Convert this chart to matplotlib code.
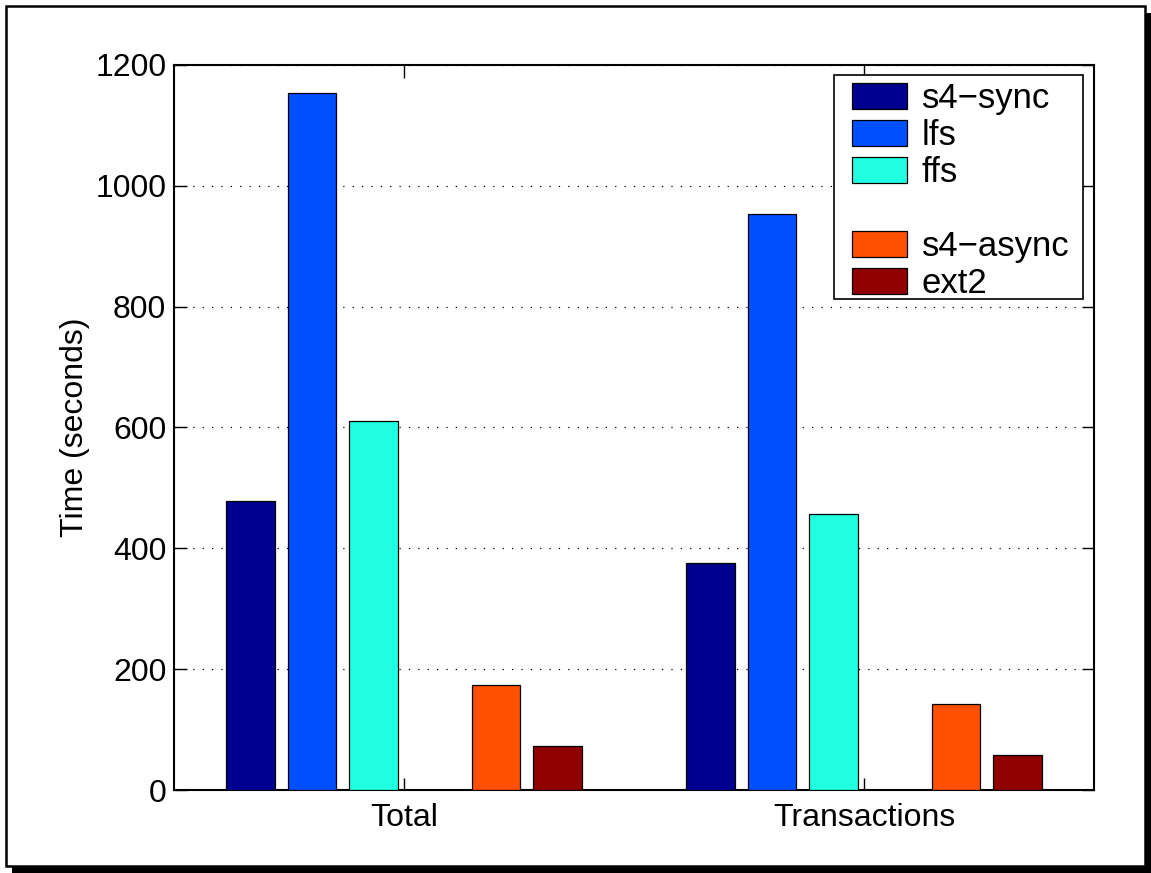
import matplotlib
matplotlib.use("Agg")
import matplotlib.pyplot as plt
from matplotlib.patches import Rectangle, Patch
from matplotlib.legend_handler import HandlerPatch
import numpy as np

plt.rcParams['font.family'] = ['Liberation Sans', 'DejaVu Sans']

categories = ["Total", "Transactions"]
series_names = ["s4\u2212sync", "lfs", "ffs", " ", "s4\u2212async", "ext2"]
s4_sync = [479, 376]
lfs = [1153, 953]
ffs = [611, 457]
blank = [0, 0]
s4_async = [173, 143]
ext2 = [73, 58]
series_values = [s4_sync, lfs, ffs, blank, s4_async, ext2]
colors = ["#000090", "#0050FF", "#20FFE0", "#FFFFFF", "#FF5000", "#900000"]
yticks = [0, 200, 400, 600, 800, 1000, 1200]

W, H = 1151, 873
fig = plt.figure(figsize=(W / 100, H / 100), dpi=100)

# figure frame with shadow
fig.patches.append(Rectangle((12 / W, 0), (W - 12) / W, 7 / H, transform=fig.transFigure,
                             facecolor="black", edgecolor="none", zorder=0))
fig.patches.append(Rectangle((1146 / W, 0), 5 / W, (H - 13) / H, transform=fig.transFigure,
                             facecolor="black", edgecolor="none", zorder=0))
fig.patches.append(Rectangle((6 / W, 7.5 / H), (1145 - 6) / W, (H - 7.5 - 6) / H,
                             transform=fig.transFigure, facecolor="white",
                             edgecolor="black", linewidth=1.8, zorder=1))

ax = fig.add_axes([174 / W, (H - 790) / H, (1094 - 174) / W, (790 - 65) / H])
ax.set_zorder(2)
ax.patch.set_alpha(1)

x = np.arange(1, len(categories) + 1)
nser = len(series_values)
step = 0.1333
width = 0.106
handles = []
for k, (vals, name, col) in enumerate(zip(series_values, series_names, colors)):
    off = (k - (nser - 1) / 2) * step
    if name.strip():
        ax.bar(x + off, vals, width, color=col, edgecolor="black", linewidth=0.9, zorder=3)
        handles.append(Patch(facecolor=col, edgecolor="black", linewidth=0.9, label=name))
    else:
        handles.append(Patch(facecolor="none", edgecolor="none", label=name))

ax.set_xlim(0.5, 2.5)
ax.set_ylim(0, 1200)
ax.set_xticks(x)
ax.set_xticklabels(categories)
ax.set_yticks(yticks)
ax.set_yticklabels([str(t) for t in yticks])
ax.tick_params(direction="in", length=9, width=1, labelsize=23, top=True, right=True,
               colors="black")
ax.tick_params(axis="x", pad=9)
ax.tick_params(axis="y", pad=5.5)
ax.yaxis.grid(True, linestyle=(0, (1, 6.5)), color="black", linewidth=0.9, zorder=0)
ax.set_axisbelow(True)
for sp in ax.spines.values():
    sp.set_linewidth(1.5)
ax.set_ylabel("Time (seconds)", fontsize=23, labelpad=4)

# legend frame (drawn separately for exact box extent)
ax.add_patch(Rectangle((0.717, 0.677), 0.271, 0.309, transform=ax.transAxes,
                       facecolor="white", edgecolor="black", linewidth=1.2,
                       zorder=4, clip_on=False))


def offset_patch(legend, orig_handle, xdescent, ydescent, width, height, fontsize):
    shift = width * 0.22
    return Rectangle((-xdescent + shift, -ydescent), width - shift, height)


leg = ax.legend(handles=handles, loc="upper left",
                bbox_to_anchor=(0.7127, 0.986, 0.271, 0.0), mode="expand",
                fontsize=25, handlelength=2.02, handleheight=0.8, handletextpad=0.43,
                labelspacing=0.116, borderpad=0.2, frameon=False,
                borderaxespad=0,
                handler_map={Patch: HandlerPatch(patch_func=offset_patch)})
leg.set_zorder(5)

fig.savefig("out.png", dpi=100)
